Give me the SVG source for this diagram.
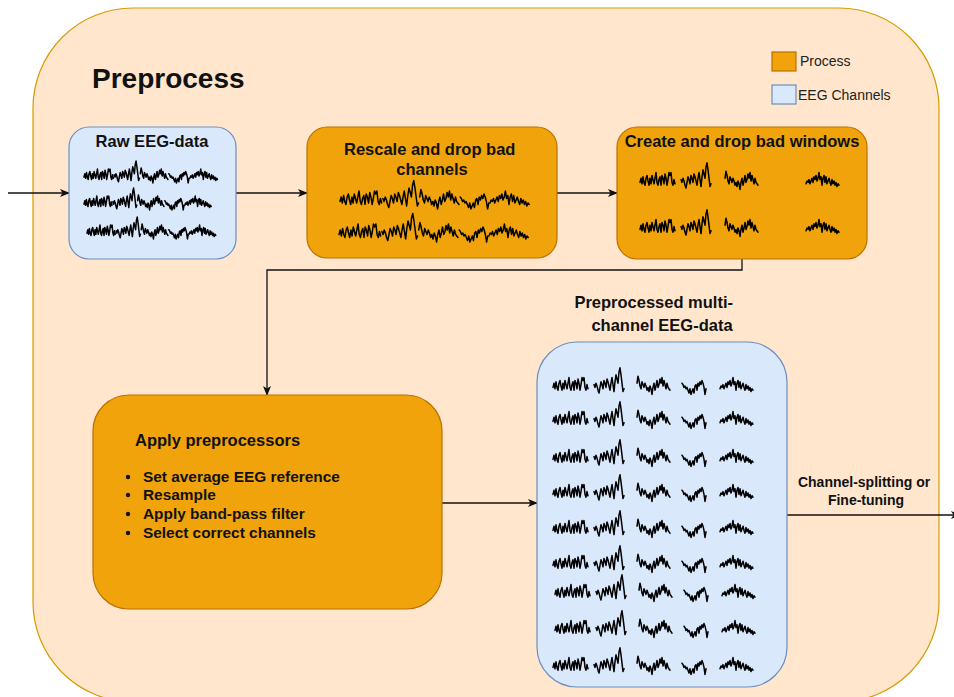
<svg xmlns="http://www.w3.org/2000/svg" xmlns:xlink="http://www.w3.org/1999/xlink" width="954" height="697" viewBox="0 0 954 697">
  <style>
    .process { fill: #f0a30a; stroke: #bd7000; stroke-width: 1.2; }
    .channels { fill: #dae8fc; stroke: #6c8ebf; stroke-width: 1.2; }
    .label { font-family: "Liberation Sans", Arial, sans-serif; font-weight: bold; fill: #111; }
    .legend { font-family: "Liberation Sans", Arial, sans-serif; font-size: 14px; fill: #222; }
    .wave { fill: none; stroke: #000; stroke-width: 1.5; stroke-linejoin: round; stroke-linecap: round; vector-effect: non-scaling-stroke; }
    .edge { fill: none; stroke: #111; stroke-width: 1.3; }
  </style>
  <defs>
    <marker id="arrow" viewBox="0 0 10 10" refX="9" refY="5" markerWidth="10" markerHeight="10" markerUnits="userSpaceOnUse" orient="auto">
      <path d="M0,1 L10,5 L0,9 L2.5,5 Z" fill="#111"/>
    </marker>
    <!-- EEG window segments -->
    <polyline id="w1" class="wave" points="0,1 1,-2 2,2 3,-3 4,1 5,3 6,-2 7,-4 8,0 9,3 10,-2 11,2 12,-4 13,-1 14,2 15,-2 16,-6 17,1 18,3 19,-1 20,-3 21,3 22,-4 23,-2 24,2 25,-5 26,-2 27,3 28,-1 29,-6 30,-4 31,-6 32,1 33,3 34,-1 35,2"/>
    <polyline id="w2" class="wave" points="0,-1 1,1 2,-2 3,0 4,3 5,5 6,1 7,-3 8,-1 9,2 10,-4 11,-2 12,1 13,-5 14,-3 15,0 16,3 17,-2 18,-6 19,-1 20,4 21,-3 22,-8 23,-5 24,-2 25,-10 26,-13 27,-8 28,-2 29,4 30,2"/>
    <polyline id="w3" class="wave" points="0,-2 1,-7 2,-4 3,0 4,2 5,-3 6,-1 7,1 8,-2 9,0 10,3 11,1 12,4 13,0 14,2 15,6 16,1 17,-2 18,3 19,0 20,-4 21,1 22,-1 23,-5 24,-2 25,-6 26,0 27,-4 28,-1 29,2 30,-2 31,1 32,2 33,3"/>
    <polyline id="w4" class="wave" points="0,-2 1,-1 2,1 3,0 4,2 5,1 6,3 7,5 8,2 9,6 10,4 11,2 12,5 13,0 14,-1 15,3 16,-2 17,0 18,-3 19,-1 20,-4 21,-2 22,1 23,6 24,2"/>
    <polyline id="w5" class="wave" points="0,2 1,0 2,1 3,-1 4,2 5,0 6,-2 7,1 8,-3 9,-1 10,-4 11,0 12,-2 13,-6 14,-1 15,-3 16,3 17,-2 18,-4 19,1 20,-3 21,2 22,0 23,-2 24,1 25,3 26,-1 27,2 28,0 29,3 30,1 31,4 32,2 33,3"/>
    <!-- continuous trace built from the segments -->
    <g id="trace">
      <use xlink:href="#w1"/>
      <use xlink:href="#w2" transform="translate(36,0)"/>
      <use xlink:href="#w3" transform="translate(67,0)"/>
      <use xlink:href="#w4" transform="translate(101,0)"/>
      <use xlink:href="#w5" transform="translate(126,0)"/>
    </g>
    <!-- all five windows kept -->
    <g id="row5">
      <use xlink:href="#w1"/>
      <use xlink:href="#w2" transform="translate(41,0)"/>
      <use xlink:href="#w3" transform="translate(84,0)"/>
      <use xlink:href="#w4" transform="translate(129,0)"/>
      <use xlink:href="#w5" transform="translate(167,0)"/>
    </g>
    <!-- bad window removed -->
    <g id="row4">
      <use xlink:href="#w1"/>
      <use xlink:href="#w2" transform="translate(41,0)"/>
      <use xlink:href="#w3" transform="translate(85,0)"/>
      <use xlink:href="#w5" transform="translate(166,0)"/>
    </g>
  </defs>

  <!-- container -->
  <g id="preprocess">
    <rect x="33" y="8" width="906" height="694" rx="100" ry="100" fill="#ffe6cc" stroke="#d79b00" stroke-width="1.2"/>
    <text x="92" y="88" class="label" font-size="28">Preprocess</text>
  </g>

  <!-- legend -->
  <g id="legend">
    <rect x="772" y="52" width="24" height="19" class="process"/>
    <text x="800" y="66" class="legend">Process</text>
    <rect x="772" y="85" width="24" height="19" class="channels"/>
    <text x="798" y="100" class="legend">EEG Channels</text>
  </g>

  <!-- connectors -->
  <g id="connectors">
    <line x1="8" y1="193" x2="69" y2="193" class="edge" marker-end="url(#arrow)"/>
    <line x1="236" y1="193" x2="307" y2="193" class="edge" marker-end="url(#arrow)"/>
    <line x1="557" y1="193" x2="617" y2="193" class="edge" marker-end="url(#arrow)"/>
    <path d="M742,259 V270 H267 V395" class="edge" marker-end="url(#arrow)"/>
    <line x1="442" y1="503" x2="537" y2="503" class="edge" marker-end="url(#arrow)"/>
    <line x1="787" y1="515" x2="960" y2="515" class="edge" marker-end="url(#arrow)"/>
    <text class="label" font-size="14" text-anchor="middle">
      <tspan x="866" y="487">Channel-splitting or</tspan>
      <tspan x="866" y="505">Fine-tuning</tspan>
    </text>
  </g>

  <!-- Raw EEG-data -->
  <g id="raw-eeg">
    <rect x="69" y="127" width="167" height="132" rx="20" ry="20" class="channels"/>
    <text x="152" y="147" class="label" font-size="16.5" text-anchor="middle">Raw EEG-data</text>
    <use xlink:href="#trace" transform="translate(84,176) scale(0.84,1.15)"/>
    <use xlink:href="#trace" transform="translate(84,203) scale(0.8,1.15)"/>
    <use xlink:href="#trace" transform="translate(87,232) scale(0.81,1.15)"/>
  </g>

  <!-- Rescale and drop bad channels -->
  <g id="rescale">
    <rect x="307" y="127" width="250" height="131" rx="20" ry="20" class="process"/>
    <text class="label" font-size="16.5" text-anchor="middle">
      <tspan x="432" y="155">Rescale and drop bad</tspan>
      <tspan x="432" y="175">channels</tspan>
    </text>
    <use xlink:href="#trace" transform="translate(340,200) scale(1.19,1.5)"/>
    <use xlink:href="#trace" transform="translate(339,233) scale(1.19,1.5)"/>
  </g>

  <!-- Create and drop bad windows -->
  <g id="windows">
    <rect x="617" y="127" width="250" height="132" rx="20" ry="20" class="process"/>
    <text x="742" y="147" class="label" font-size="16.5" text-anchor="middle">Create and drop bad windows</text>
    <use xlink:href="#row4" transform="translate(640,181) scale(1,1.4)"/>
    <use xlink:href="#row4" transform="translate(640,228) scale(1,1.4)"/>
  </g>

  <!-- Apply preprocessors -->
  <g id="apply">
    <rect x="93" y="395" width="349" height="214" rx="36" ry="36" class="process"/>
    <text x="135" y="446" class="label" font-size="16.5">Apply preprocessors</text>
    <g class="label" font-size="15.4">
      <circle cx="128" cy="477" r="2.2" fill="#111"/>
      <circle cx="128" cy="495" r="2.2" fill="#111"/>
      <circle cx="128" cy="514" r="2.2" fill="#111"/>
      <circle cx="128" cy="533" r="2.2" fill="#111"/>
      <text x="143" y="482">Set average EEG reference</text>
      <text x="143" y="500">Resample</text>
      <text x="143" y="519">Apply band-pass filter</text>
      <text x="143" y="538">Select correct channels</text>
    </g>
  </g>

  <!-- Preprocessed multi-channel EEG-data -->
  <g id="preprocessed">
    <text class="label" font-size="16.5" text-anchor="middle">
      <tspan x="656" y="308">Preprocessed multi-</tspan>
      <tspan x="662" y="331">channel EEG-data</tspan>
    </text>
    <rect x="537" y="342" width="250" height="345" rx="40" ry="40" class="channels"/>
    <use xlink:href="#row5" transform="translate(553,386) scale(1,1.4)"/>
    <use xlink:href="#row5" transform="translate(553,420) scale(1,1.4)"/>
    <use xlink:href="#row5" transform="translate(553,458) scale(1,1.4)"/>
    <use xlink:href="#row5" transform="translate(553,493) scale(1,1.4)"/>
    <use xlink:href="#row5" transform="translate(553,529) scale(1,1.4)"/>
    <use xlink:href="#row5" transform="translate(553,564) scale(1,1.4)"/>
    <use xlink:href="#row5" transform="translate(555,593) scale(1,1.4)"/>
    <use xlink:href="#row5" transform="translate(555,629) scale(1,1.4)"/>
    <use xlink:href="#row5" transform="translate(553,666) scale(1,1.4)"/>
  </g>
</svg>
